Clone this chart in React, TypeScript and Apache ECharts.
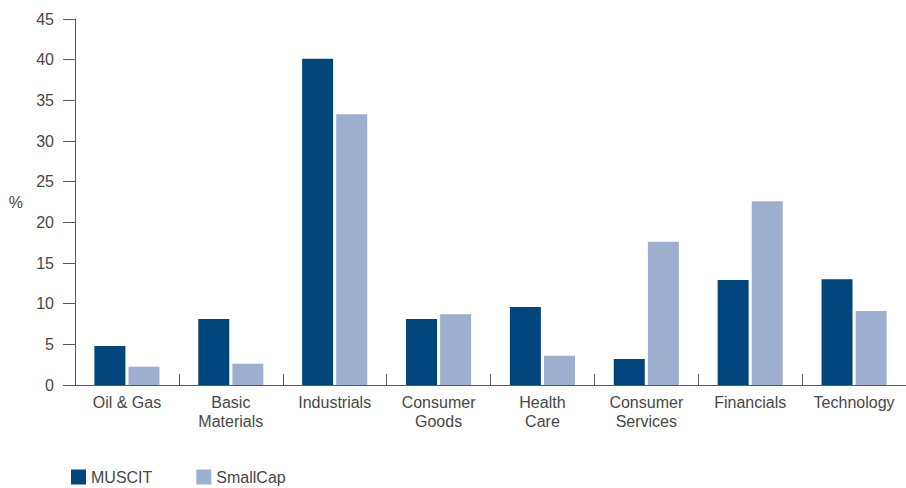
import React, { useEffect, useRef } from "react";
import * as echarts from "echarts";

const categories = [
  "Oil & Gas",
  "Basic\nMaterials",
  "Industrials",
  "Consumer\nGoods",
  "Health\nCare",
  "Consumer\nServices",
  "Financials",
  "Technology",
];
const muscit = [4.8, 8.1, 40.1, 8.1, 9.6, 3.2, 12.9, 13.0];
const smallCap = [2.25, 2.6, 33.3, 8.7, 3.6, 17.6, 22.6, 9.1];
const seriesNames = ["MUSCIT", "SmallCap"];
const yMin = 0;
const yMax = 45;
const yInterval = 5;

const FONT = "Liberation Sans, Arial, Helvetica, sans-serif";
const TEXT = "#474747";
const AXIS = "#5a5a5a";

export default function App() {
  const ref = useRef<HTMLDivElement>(null);
  useEffect(() => {
    document.body.style.margin = "0";
    if (!ref.current) return;
    const chart = echarts.init(ref.current, undefined, { renderer: "svg" });
    chart.setOption({
      animation: false,
      textStyle: { fontFamily: FONT },
      grid: { left: 75, top: 19, width: 834, height: 366, containLabel: false },
      legend: {
        left: 71,
        top: 469,
        padding: 0,
        itemWidth: 15,
        itemHeight: 15,
        itemGap: 44,
        icon: "rect",
        textStyle: { fontFamily: FONT, fontSize: 16, color: TEXT, lineHeight: 16 },
        data: seriesNames,
      },
      xAxis: {
        type: "category",
        data: categories,
        axisLine: { lineStyle: { color: AXIS, width: 1 } },
        axisTick: { show: true, inside: true, length: 11, lineStyle: { color: AXIS } },
        axisLabel: {
          fontFamily: FONT,
          fontSize: 16,
          color: TEXT,
          margin: 8,
          lineHeight: 19,
          interval: 0,
        },
      },
      yAxis: {
        type: "value",
        min: yMin,
        max: yMax,
        interval: yInterval,
        name: "%",
        nameLocation: "middle",
        nameRotate: 0,
        nameGap: 52,
        nameTextStyle: { fontFamily: FONT, fontSize: 16, color: TEXT },
        splitLine: { show: false },
        axisLine: { show: true, lineStyle: { color: AXIS, width: 1 } },
        axisTick: { show: true, inside: false, length: 12, lineStyle: { color: AXIS } },
        axisLabel: { fontFamily: FONT, fontSize: 16, color: TEXT, margin: 21 },
      },
      series: [
        {
          name: seriesNames[0],
          type: "bar",
          data: muscit,
          barWidth: 31,
          barGap: "10%",
          itemStyle: { color: "#00457C" },
        },
        {
          name: seriesNames[1],
          type: "bar",
          data: smallCap,
          barWidth: 31,
          barGap: "10%",
          itemStyle: { color: "#9DAFCF" },
        },
      ],
    });
    return () => chart.dispose();
  }, []);
  return <div ref={ref} style={{ width: 906, height: 488 }} />;
}
